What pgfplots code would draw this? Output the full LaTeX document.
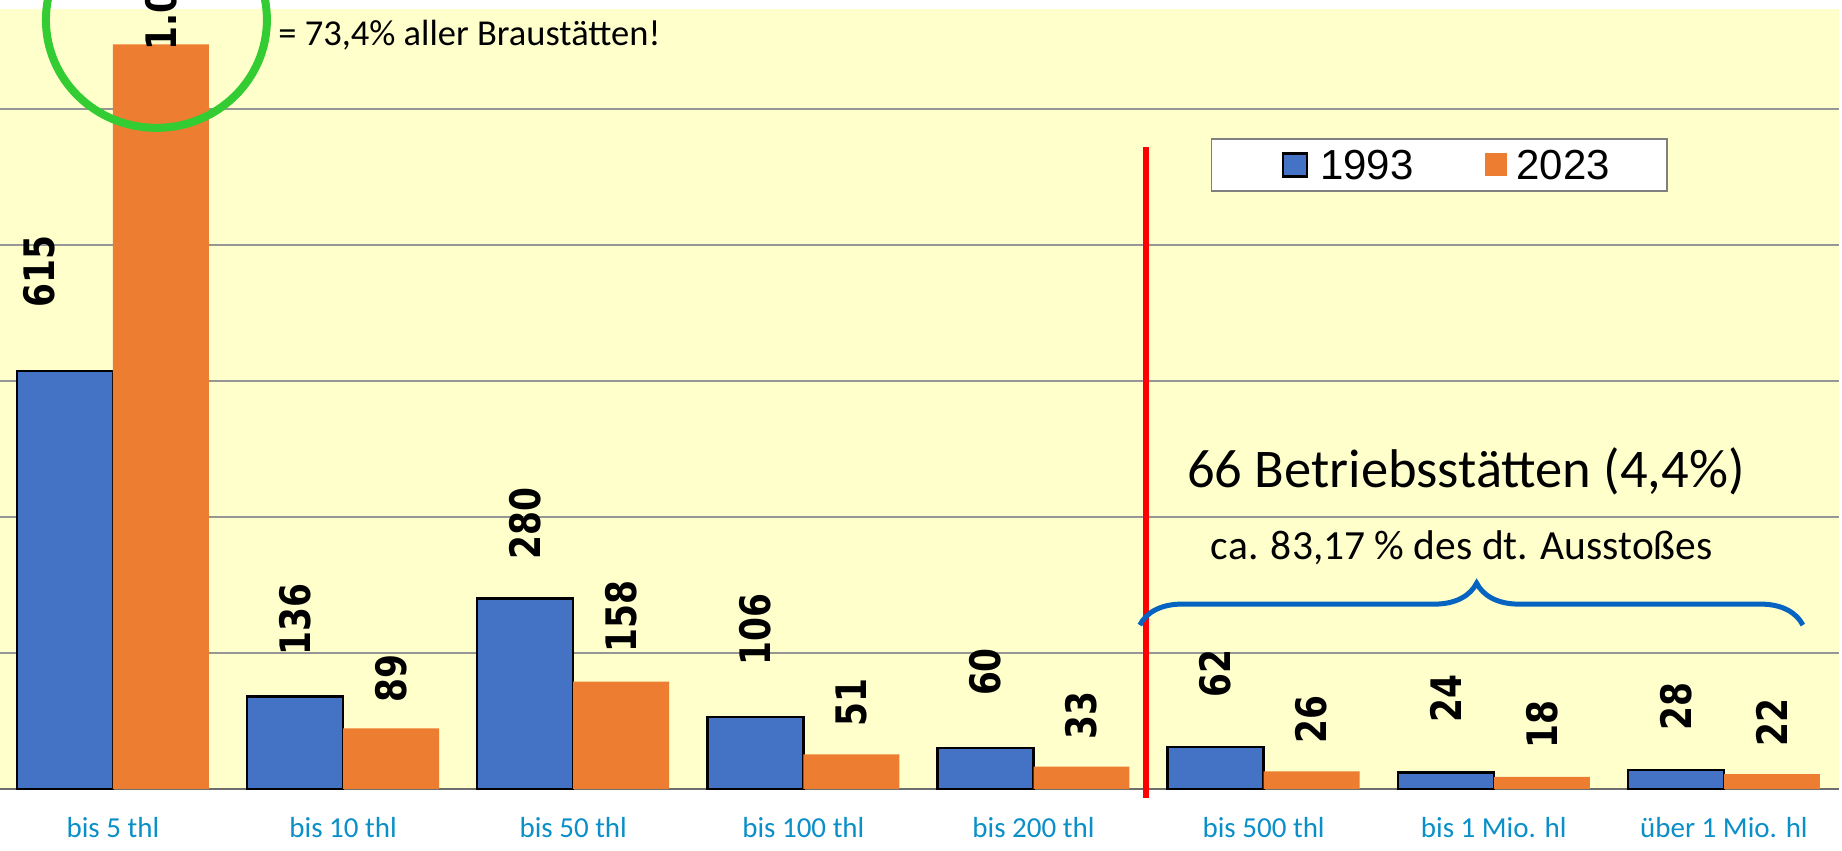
\documentclass[border=0pt]{standalone}
\usepackage{pgfplots}
\usepackage{pgfplotstable}
\pgfplotsset{compat=1.18}
\usetikzlibrary{decorations.pathreplacing}
\usepackage{fontspec}
\setmainfont{Carlito}
\newfontfamily\lblfont{DejaVu Sans}[FakeStretch=0.82]
\newfontfamily\legfont{Liberation Sans}
\definecolor{barblue}{RGB}{68,114,196}
\definecolor{barorange}{RGB}{237,125,49}
\definecolor{bgyellow}{RGB}{255,255,204}
\definecolor{gridgray}{RGB}{150,150,150}
\definecolor{axisgray}{RGB}{110,110,110}
\definecolor{catblue}{RGB}{10,143,200}
\definecolor{bracecol}{RGB}{5,99,193}
\definecolor{circgreen}{RGB}{51,204,51}

\pgfplotstableread{
x v lab by bx
0 615 615 31 -37
1 136 136 20 -24
2 280 280 19 -24
3 106 106 25 -24
4 60 60 25.5 -24
5 62 62 24 -24
6 24 24 24.5 -24
7 28 28 19 -24
}\datablue
\pgfplotstableread{
x v lab by bx
0 1095 1.095 -3.5 24
1 89 89 13 24
2 158 158 14.5 24
3 51 51 13.5 24
4 33 33 13.5 24
5 26 26 13.5 24
6 18 18 14 24
7 22 22 13.5 24
}\dataorange

\begin{document}
\begin{tikzpicture}
\path[use as bounding box, clip] (0,0) rectangle (921pt,425.5pt);
\begin{axis}[
  at={(-1.075pt,31pt)}, anchor=south west,
  scale only axis, width=920.575pt, height=390pt,
  xmin=-0.5, xmax=7.5, ymin=0, ymax=1147,
  clip=false,
  axis background/.style={fill=bgyellow},
  axis line style={draw=none},
  tick pos=left,
  xtick={0,...,7},
  xticklabels={bis 5 thl, bis 10 thl, bis 50 thl, bis 100 thl, bis 200 thl, bis 500 thl, bis 1 Mio. hl, über 1 Mio. hl},
  x tick style={draw=none},
  minor xtick={0.5,1.5,2.5,3.5,4.5,5.5,6.5,7.5},
  minor tick style={draw=axisgray, line width=0.6pt},
  minor tick length=4.5pt,
  tick align=outside,
  xticklabel style={font=\fontsize{14.5}{14.5}\selectfont, text=catblue, anchor=base, yshift=-20pt},
  ytick={200,400,600,800,1000},
  yticklabels={},
  y tick style={draw=none},
  ymajorgrids,
  major grid style={draw=gridgray, line width=1pt},
  extra y ticks={0},
  extra y tick labels={},
  extra y tick style={major grid style={draw=axisgray, line width=0.8pt}},
  legend style={at={(rel axis cs:0.6589,0.8346)}, anchor=north west,
    draw=gray, fill=white, line width=0.75pt,
    font=\legfont\fontsize{21}{21}\selectfont,
    inner xsep=28.5pt, inner ysep=5.75pt,
    nodes={inner sep=0pt, text depth=0pt},
    /tikz/every even column/.append style={column sep=35.5pt}},
  legend columns=2,
  legend cell align=left,
]
\addplot[ybar, bar width=0.417, bar shift=-0.2085, fill=barblue, draw=black, line width=1.2pt,
  legend image code/.code={\path (-6.5pt,0pt); \draw[fill=barblue, draw=black, line width=1.2pt] (0pt,-5.75pt) rectangle (12pt,5.75pt); \path (18pt,0pt);},
  visualization depends on={\thisrow{by} \as \myy},
  visualization depends on={\thisrow{bx} \as \myx},
  nodes near coords, point meta=explicit symbolic,
  every node near coord/.style={yshift=\myy pt, xshift=\myx pt, rotate=90, anchor=west, inner sep=0pt, text=black, font=\lblfont\bfseries\fontsize{21}{21}\selectfont},
  nodes near coords align={anchor=west}]
  table[x=x, y=v, meta=lab] {\datablue};
\addlegendentry{1993}
\addplot[ybar, bar width=0.417, bar shift=0.2085, fill=barorange, draw=none,
  legend image code/.code={\fill[barorange] (0pt,-5.75pt) rectangle (11pt,5.75pt); \path (16pt,0pt);},
  visualization depends on={\thisrow{by} \as \myy},
  visualization depends on={\thisrow{bx} \as \myx},
  nodes near coords, point meta=explicit symbolic,
  every node near coord/.style={yshift=\myy pt, xshift=\myx pt, rotate=90, anchor=west, inner sep=0pt, text=black, font=\lblfont\bfseries\fontsize{21}{21}\selectfont},
  nodes near coords align={anchor=west}]
  table[x=x, y=v, meta=lab] {\dataorange};
\addlegendentry{2023}

\draw[red, line width=3pt] (axis cs:4.488,944) -- (axis cs:4.488,-13.2);
\draw[bracecol, line width=2.5pt, decorate, decoration={brace, amplitude=21pt, aspect=0.508}] (axis cs:4.462,241) -- (axis cs:7.343,241);
\draw[circgreen, line width=4pt] (axis cs:0.189,1131) ellipse [x radius=55.25pt, y radius=54pt];
\node[anchor=base west, inner sep=0pt, font=\fontsize{18.25}{18.25}\selectfont] at (axis cs:0.717,1094) {= 73,4\% aller Braustätten!};
\node[anchor=base, inner sep=0pt, font=\fontsize{27.25}{27.25}\selectfont] at (axis cs:5.879,444) {66 Betriebsstätten (4,4\%)};
\node[anchor=base, inner sep=0pt, font=\fontsize{20.75}{20.75}\selectfont] at (axis cs:5.861,338) {ca. 83,17 \% des dt. Ausstoßes};
\end{axis}
\end{tikzpicture}
\end{document}
